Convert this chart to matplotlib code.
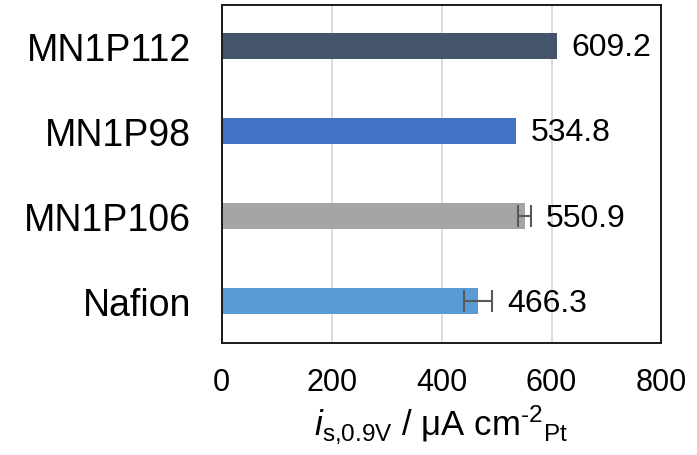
import matplotlib
matplotlib.use('Agg')
import matplotlib.pyplot as plt

plt.rcParams.update({'font.family': 'Liberation Sans', 'font.size': 22,
                     'mathtext.fontset': 'custom',
                     'mathtext.rm': 'Liberation Sans',
                     'mathtext.it': 'Liberation Sans:italic'})

samples = ['Nafion', 'MN1P106', 'MN1P98', 'MN1P112']
activity = [466.3, 550.9, 534.8, 609.2]
errors = [25.5, 11, 0, 0]
colors = ['#5B9BD5', '#A5A5A5', '#4472C4', '#44546A']

fig = plt.figure(figsize=(6.97, 4.56), dpi=100)
ax = fig.add_axes([0.318, 0.2456, 0.631, 0.741])

pos = list(range(len(samples)))
ax.barh(pos, activity, height=0.31, color=colors, zorder=2)
for y, v, e in zip(pos, activity, errors):
  if e > 0:
    ax.errorbar(v, y, xerr=e, fmt='none', ecolor='#595959', elinewidth=1.5,
                capsize=8, capthick=1.5, zorder=3)
  ax.annotate(f'{v:.1f}', xy=(v + e, y), xytext=(11, -1), textcoords='offset points',
              va='center', ha='left', fontsize=23)

ax.set_xlim(0, 800)
ax.set_ylim(-0.49, 3.48)
ax.set_xticks([0, 200, 400, 600, 800])
ax.set_yticks(pos)
ax.set_yticklabels(samples, fontsize=27)
ax.tick_params(axis='both', length=0)
ax.tick_params(axis='y', pad=22)
ax.tick_params(axis='x', labelsize=22, pad=17)
ax.grid(axis='x', color='#D9D9D9', linewidth=1.3, zorder=0)
for s in ax.spines.values():
  s.set_linewidth(1.4)
  s.set_color('#1a1a1a')

ax.set_xlabel(r'$\it{i}$$_{\text{s,0.9V}}$ / μA cm$^{\text{-2}}$$_{\text{Pt}}$',
              fontsize=25, labelpad=4)

fig.savefig('out.png', dpi=100)
